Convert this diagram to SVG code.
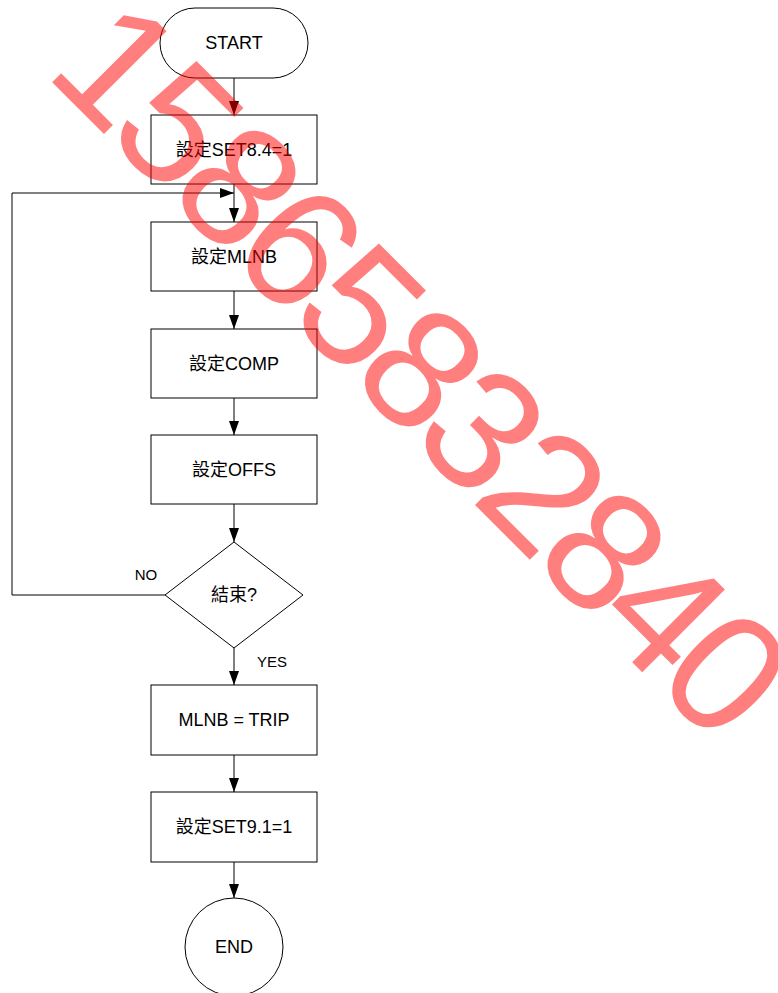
<svg xmlns="http://www.w3.org/2000/svg" width="778" height="993" viewBox="0 0 778 993">
<style>
.n{fill:#fff;stroke:#000;stroke-width:1}
.t{font-family:"Liberation Sans","Noto Sans CJK TC",Arial,sans-serif;font-size:18px;fill:#000;text-anchor:middle}
.l{font-family:"Liberation Sans",Arial,sans-serif;font-size:15px;fill:#000;text-anchor:middle}
.c{fill:none;stroke:#000;stroke-width:1}
.wm{font-family:"Liberation Sans",Arial,sans-serif;font-size:170px;letter-spacing:-8.5px;fill:#ff0000;fill-opacity:0.5}
</style>
<defs>
<marker id="ah" viewBox="0 0 14 10" refX="14" refY="5" markerWidth="14" markerHeight="10" markerUnits="userSpaceOnUse" orient="auto">
<path d="M0,0 L14,5 L0,10 Z" fill="#000"/>
</marker>
</defs>
<rect width="778" height="993" fill="#fff"/>
<g id="connectors">
<line class="c" x1="234" y1="78" x2="234" y2="115" marker-end="url(#ah)"/>
<line class="c" x1="234" y1="184" x2="234" y2="222" marker-end="url(#ah)"/>
<line class="c" x1="234" y1="291" x2="234" y2="329" marker-end="url(#ah)"/>
<line class="c" x1="234" y1="398" x2="234" y2="435" marker-end="url(#ah)"/>
<line class="c" x1="234" y1="504" x2="234" y2="542" marker-end="url(#ah)"/>
<line class="c" x1="234" y1="648" x2="234" y2="685" marker-end="url(#ah)"/>
<line class="c" x1="234" y1="755" x2="234" y2="792" marker-end="url(#ah)"/>
<line class="c" x1="234" y1="862" x2="234" y2="898" marker-end="url(#ah)"/>
<polyline class="c" points="165,595 12,595 12,193 234,193" marker-end="url(#ah)"/>
<text class="l" x="146" y="580">NO</text>
<text class="l" x="272" y="667">YES</text>
</g>
<g id="start">
<rect class="n" x="160" y="8" width="148" height="70" rx="35" ry="35"/>
<text class="t" x="234" y="49">START</text>
</g>
<g id="set84">
<rect class="n" x="151" y="115" width="166" height="69"/>
<text class="t" x="234" y="156">設定SET8.4=1</text>
</g>
<g id="mlnb">
<rect class="n" x="151" y="222" width="166" height="69"/>
<text class="t" x="234" y="263">設定MLNB</text>
</g>
<g id="comp">
<rect class="n" x="151" y="329" width="166" height="69"/>
<text class="t" x="234" y="370">設定COMP</text>
</g>
<g id="offs">
<rect class="n" x="151" y="435" width="166" height="69"/>
<text class="t" x="234" y="476">設定OFFS</text>
</g>
<g id="end-check">
<polygon class="n" points="234,542 303,595 234,648 165,595"/>
<text class="t" x="234" y="601">結束?</text>
</g>
<g id="trip">
<rect class="n" x="151" y="685" width="166" height="70"/>
<text class="t" x="234" y="726">MLNB = TRIP</text>
</g>
<g id="set91">
<rect class="n" x="151" y="792" width="166" height="70"/>
<text class="t" x="234" y="833">設定SET9.1=1</text>
</g>
<g id="end">
<circle class="n" cx="234" cy="947" r="49"/>
<text class="t" x="234" y="953">END</text>
</g>
<text class="wm" transform="translate(43,73) rotate(45)">15865832840</text>
</svg>
